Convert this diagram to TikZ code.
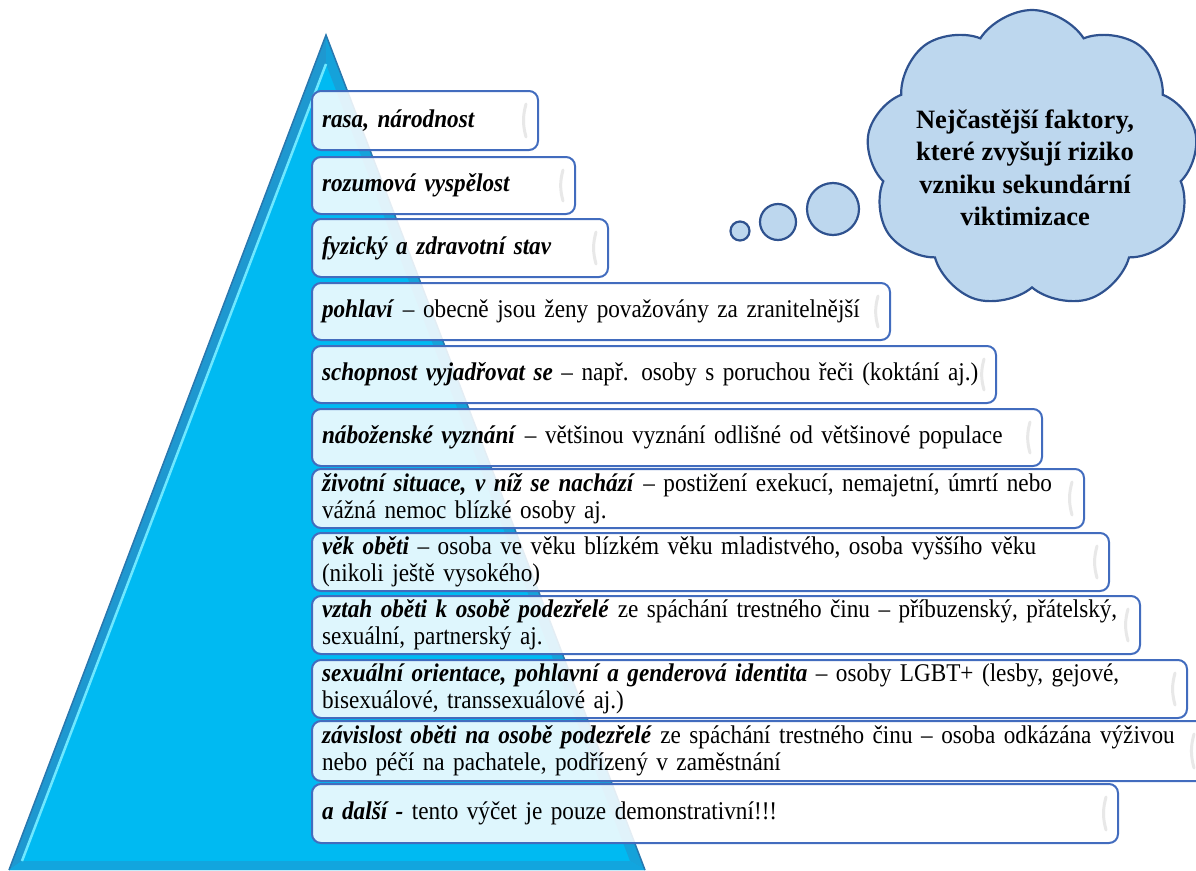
\documentclass[tikz,border=0pt]{standalone}
\usepackage{fontspec}
\setmainfont{Liberation Serif}
\newfontfamily\boxfont[FakeStretch=0.91]{Liberation Serif}
\usetikzlibrary{shapes.symbols}
\definecolor{pyr}{RGB}{0,186,242}
\definecolor{pyrdark}{RGB}{30,152,208}
\definecolor{pyredge}{RGB}{40,120,175}
\definecolor{pyrlight}{RGB}{110,232,255}
\definecolor{boxline}{RGB}{66,108,190}
\definecolor{cloudfill}{RGB}{189,215,238}
\definecolor{cloudline}{RGB}{47,82,143}
\newcommand{\bi}[1]{\textbf{\textit{#1}}}
\tikzset{
  factor/.style={draw=boxline, line width=2pt, rounded corners=9pt, fill=white,
    fill opacity=0.87, text opacity=1, anchor=north west, inner xsep=10pt,
    inner ysep=0pt, align=left, font=\boxfont\fontsize{25.5}{27}\selectfont},
  gloss/.style={draw=black!9, line width=3pt, line cap=round},
  bubble/.style={circle, draw=cloudline, fill=cloudfill, line width=2.2pt, inner sep=0pt},
}
\begin{document}
\begin{tikzpicture}[x=1pt,y=-1pt]
\useasboundingbox (0,0) rectangle (1196,870);
% pyramid
\fill[pyr] (326,35) -- (645,870) -- (9,870) -- cycle;
\fill[pyrdark] (326,35) -- (9,870) -- (22,861) -- (326,64) -- cycle;
\fill[pyrdark!70!pyr] (326,35) -- (645,870) -- (630,861) -- (326,64) -- cycle;
\fill[pyrdark!60!pyr] (9,870) -- (645,870) -- (630,861) -- (22,861) -- cycle;
\draw[pyrlight, line width=2.5pt] (22,861) -- (326,64);
\draw[pyredge, line width=1.5pt] (9,870) -- (326,35) -- (645,870);
% boxes
\node[factor, minimum height=59pt, text width=206pt] (b1) at (311,90) {\mbox{\bi{rasa, národnost}}};
\node[factor, minimum height=57pt, text width=243pt] (b2) at (311,156) {\mbox{\bi{rozumová vyspělost}}};
\node[factor, minimum height=58pt, text width=276pt] (b3) at (311,218) {\mbox{\bi{fyzický a zdravotní stav}}};
\node[factor, minimum height=57pt, text width=558pt] (b4) at (311,282) {\mbox{\bi{pohlaví} – obecně jsou ženy považovány za zranitelnější}};
\node[factor, minimum height=57pt, text width=664pt] (b5) at (311,345) {\mbox{\bi{schopnost vyjadřovat se} – např. osoby s poruchou řeči (koktání aj.)}};
\node[factor, minimum height=57pt, text width=710pt] (b6) at (311,408) {\mbox{\bi{náboženské vyznání} – většinou vyznání odlišné od většinové populace}};
\node[factor, minimum height=59pt, text width=752pt] (b7) at (311,468) {\mbox{\bi{životní situace, v níž se nachází} – postižení exekucí, nemajetní, úmrtí nebo}\\\mbox{vážná nemoc blízké osoby aj.}};
\node[factor, minimum height=58pt, text width=777pt] (b8) at (311,532) {\mbox{\bi{věk oběti} – osoba ve věku blízkém věku mladistvého, osoba vyššího věku}\\\mbox{(nikoli ještě vysokého)}};
\node[factor, minimum height=58pt, text width=808pt] (b9) at (311,595) {\mbox{\bi{vztah oběti k osobě podezřelé} ze spáchání trestného činu – příbuzenský, přátelský,}\\\mbox{sexuální, partnerský aj.}};
\node[factor, minimum height=58pt, text width=855pt] (b10) at (311,659) {\mbox{\bi{sexuální orientace, pohlavní a genderová identita} – osoby LGBT+ (lesby, gejové,}\\\mbox{bisexuálové, transsexuálové aj.)}};
\node[factor, minimum height=60pt, text width=874pt] (b11) at (311,720) {\mbox{\bi{závislost oběti na osobě podezřelé} ze spáchání trestného činu – osoba odkázána výživou}\\\mbox{nebo péčí na pachatele, podřízený v zaměstnání}};
\node[factor, minimum height=59pt, text width=786pt] (b12) at (311,783) {\mbox{\bi{a další -} tento výčet je pouze demonstrativní!!!}};
\foreach \n in {b1,b2,b3,b4,b5,b6,b7,b8,b9,b10,b11,b12}
  \draw[gloss] ([xshift=-13pt,yshift=-14pt]\n.north east) to[bend right=15] ([xshift=-13pt,yshift=14pt]\n.south east);
% cloud
\node[cloud, cloud puffs=9, cloud puff arc=115, aspect=1.1, draw=cloudline, fill=cloudfill,
  line width=2.2pt, minimum width=332pt, minimum height=298pt] (cloud) at (1032,159) {};
\node[align=center, font=\fontsize{26.5}{32.5}\selectfont\bfseries] (cloudtext) at (1025,168)
  {Nejčastější faktory,\\které zvyšují riziko\\vzniku sekundární\\viktimizace};
\node[bubble, minimum size=19pt] (t1) at (740,231) {};
\node[bubble, minimum size=36pt] (t2) at (778,222) {};
\node[bubble, minimum size=52pt] (t3) at (833,209) {};
\end{tikzpicture}
\end{document}
